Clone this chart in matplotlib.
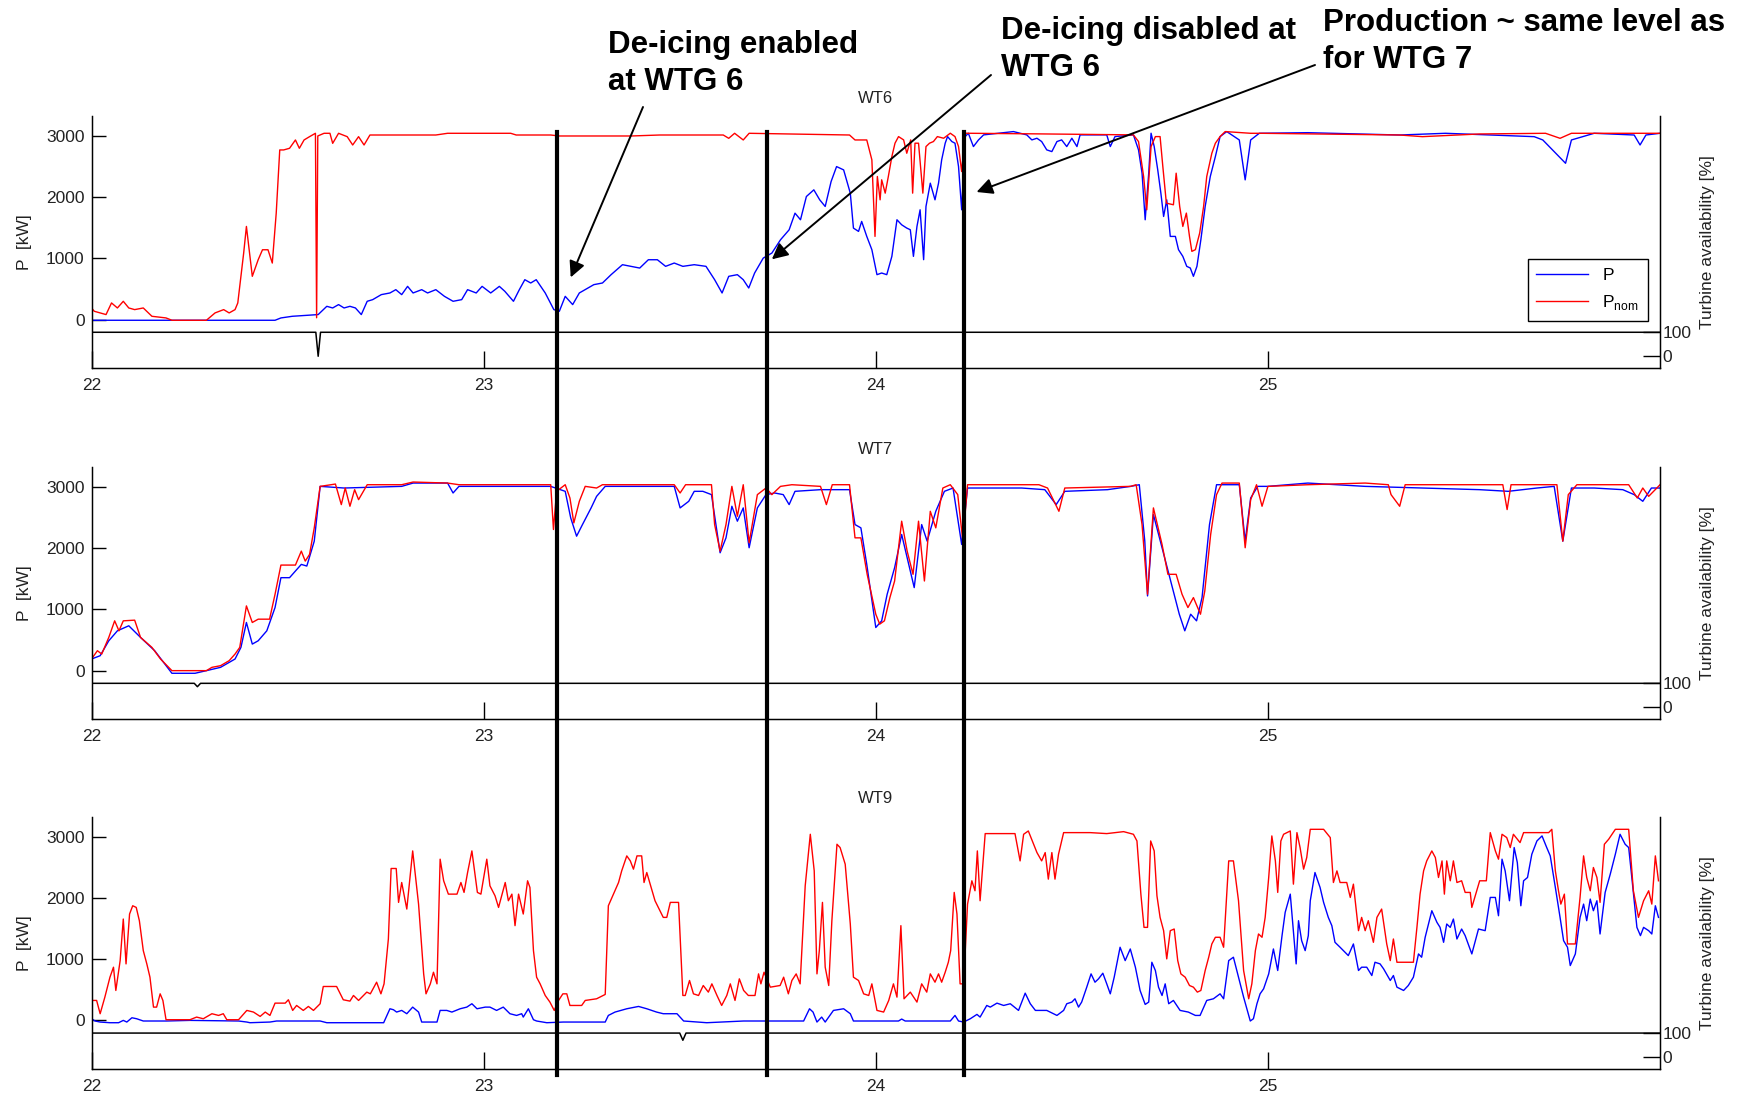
import matplotlib
matplotlib.use("Agg")
import matplotlib.pyplot as plt
from matplotlib.lines import Line2D
from matplotlib import transforms

# ---- data (day of month, kW) ----
wt6_p = [(22.000, -11), (22.468, -11), (22.483, 27), (22.512, 54), (22.578, 82), (22.600, 217), (22.615, 190),
         (22.630, 245), (22.644, 190), (22.659, 217), (22.673, 190), (22.688, 82), (22.703, 299), (22.717, 326),
         (22.739, 408), (22.761, 435), (22.776, 489), (22.791, 408), (22.806, 543), (22.820, 435), (22.842, 489),
         (22.857, 435), (22.878, 489), (22.900, 380), (22.922, 299), (22.944, 326), (22.959, 489), (22.981, 435),
         (22.996, 543), (23.018, 435), (23.040, 543), (23.054, 462), (23.076, 299), (23.091, 489), (23.105, 652),
         (23.120, 598), (23.134, 652), (23.157, 435), (23.179, 163), (23.193, 136), (23.208, 380), (23.227, 245),
         (23.244, 435), (23.266, 516), (23.281, 571), (23.303, 598), (23.325, 734), (23.354, 897), (23.376, 870),
         (23.398, 842), (23.420, 978), (23.443, 978), (23.464, 870), (23.486, 924), (23.508, 870), (23.537, 897),
         (23.567, 870), (23.589, 652), (23.608, 435), (23.625, 707), (23.647, 734), (23.662, 652), (23.676, 516),
         (23.691, 761), (23.713, 1005), (23.735, 1087), (23.757, 1304), (23.779, 1467), (23.794, 1739),
         (23.808, 1631), (23.823, 2011), (23.842, 2120), (23.857, 1957), (23.871, 1848), (23.886, 2255),
         (23.900, 2500), (23.918, 2446), (23.935, 2066), (23.943, 1495), (23.956, 1441), (23.964, 1604),
         (23.977, 1359), (23.990, 1142), (24.003, 734), (24.015, 761), (24.028, 734), (24.041, 1033),
         (24.054, 1631), (24.066, 1549), (24.079, 1495), (24.088, 1468), (24.096, 1033), (24.105, 1522),
         (24.113, 1794), (24.122, 979), (24.128, 1849), (24.139, 2229), (24.151, 1957), (24.160, 2229),
         (24.168, 2610), (24.177, 2882), (24.183, 2990), (24.194, 2909), (24.202, 2882), (24.211, 2501),
         (24.219, 1794), (24.228, 2990), (24.236, 3045), (24.249, 2827), (24.262, 2936), (24.275, 3018),
         (24.351, 3072), (24.385, 3018), (24.398, 2936), (24.411, 2963), (24.423, 2909), (24.436, 2773),
         (24.449, 2745), (24.462, 2909), (24.474, 2936), (24.487, 2827), (24.500, 2963), (24.513, 2827),
         (24.521, 3018), (24.589, 3018), (24.598, 2827), (24.610, 2990), (24.657, 3018), (24.670, 2773),
         (24.679, 2392), (24.687, 1631), (24.696, 2392), (24.702, 3045), (24.710, 2827), (24.719, 2447),
         (24.727, 2066), (24.734, 1685), (24.742, 1957), (24.751, 1359), (24.764, 1359), (24.772, 1142),
         (24.783, 1033), (24.793, 870), (24.802, 843), (24.810, 707), (24.819, 870), (24.829, 1305),
         (24.840, 1849), (24.853, 2338), (24.866, 2664), (24.878, 2990), (24.895, 3072), (24.927, 2935),
         (24.942, 2283), (24.956, 2935), (24.978, 3044), (25.102, 3054), (25.336, 3016), (25.453, 3044),
         (25.679, 2989), (25.701, 2935), (25.759, 2554), (25.774, 2935), (25.832, 3044), (25.934, 3016),
         (25.949, 2853), (25.964, 3016), (26.000, 3044)]

wt6_pnom = [(22.000, 190), (22.007, 136), (22.022, 109), (22.037, 82), (22.051, 272), (22.066, 190),
            (22.081, 299), (22.095, 190), (22.110, 163), (22.132, 190), (22.154, 54), (22.190, 27),
            (22.205, -11), (22.293, -11), (22.315, 109), (22.337, 163), (22.351, 109), (22.366, 163),
            (22.373, 272), (22.388, 1087), (22.395, 1522), (22.410, 707), (22.425, 978), (22.436, 1141),
            (22.450, 1141), (22.461, 924), (22.471, 1739), (22.480, 2772), (22.490, 2772), (22.505, 2799),
            (22.520, 2935), (22.530, 2799), (22.542, 2935), (22.556, 2989), (22.571, 3044), (22.574, 30),
            (22.577, 3000), (22.593, 3044), (22.608, 3044), (22.615, 2880), (22.630, 3044), (22.652, 2989),
            (22.666, 2853), (22.681, 2989), (22.695, 2853), (22.710, 3016), (22.878, 3016), (22.908, 3044),
            (23.069, 3044), (23.083, 3016), (23.171, 3016), (23.193, 3000), (23.376, 3000), (23.449, 3016),
            (23.611, 3016), (23.625, 2962), (23.640, 3044), (23.662, 2935), (23.677, 3044), (23.933, 3016),
            (23.947, 2935), (23.977, 2935), (23.990, 2610), (23.998, 1359), (24.004, 2338), (24.011, 1957),
            (24.015, 2284), (24.024, 2066), (24.032, 2338), (24.041, 2664), (24.049, 2882), (24.058, 2990),
            (24.071, 2936), (24.079, 2718), (24.089, 2936), (24.094, 2066), (24.100, 2882), (24.109, 2882),
            (24.120, 2066), (24.128, 2827), (24.137, 2882), (24.147, 2909), (24.157, 2990), (24.173, 2963),
            (24.190, 3045), (24.202, 2990), (24.211, 2827), (24.219, 2419), (24.228, 3045), (24.419, 3034),
            (24.657, 3018), (24.670, 2909), (24.683, 2338), (24.691, 1794), (24.702, 2827), (24.713, 2990),
            (24.725, 2990), (24.732, 2501), (24.741, 1903), (24.759, 1876), (24.766, 2392), (24.775, 1849),
            (24.783, 1522), (24.792, 1740), (24.800, 1359), (24.806, 1115), (24.815, 1142), (24.826, 1414),
            (24.836, 1849), (24.844, 2338), (24.857, 2718), (24.866, 2882), (24.878, 2990), (24.891, 3072),
            (24.956, 3044), (24.985, 3044), (25.336, 3016), (25.394, 2989), (25.540, 3033), (25.708, 3044),
            (25.745, 2962), (25.774, 3044), (26.000, 3044)]

wt7_p = [(22.000, 190), (22.022, 244), (22.044, 488), (22.066, 651), (22.095, 733), (22.125, 543),
         (22.161, 326), (22.205, -43), (22.264, -43), (22.293, 0), (22.329, 54), (22.366, 190), (22.381, 380),
         (22.395, 787), (22.410, 434), (22.425, 488), (22.447, 651), (22.468, 1031), (22.483, 1519),
         (22.505, 1519), (22.520, 1628), (22.535, 1736), (22.549, 1709), (22.568, 2116), (22.583, 3011),
         (22.644, 2984), (22.791, 3011), (22.820, 3065), (22.908, 3065), (22.922, 2903), (22.937, 3011),
         (23.171, 3011), (23.208, 2930), (23.222, 2496), (23.237, 2197), (23.252, 2387), (23.274, 2659),
         (23.288, 2848), (23.310, 3011), (23.486, 3011), (23.501, 2659), (23.523, 2767), (23.537, 2930),
         (23.559, 2930), (23.581, 2876), (23.603, 1926), (23.618, 2170), (23.633, 2686), (23.647, 2442),
         (23.662, 2659), (23.677, 2008), (23.698, 2659), (23.720, 2876), (23.742, 2903), (23.764, 2876),
         (23.779, 2713), (23.794, 2930), (23.859, 2957), (23.933, 2957), (23.947, 2387), (23.962, 2333),
         (23.977, 1736), (24.000, 705), (24.015, 814), (24.029, 1248), (24.048, 1682), (24.066, 2225),
         (24.080, 1845), (24.098, 1357), (24.117, 2387), (24.131, 2116), (24.153, 2604), (24.175, 2930),
         (24.197, 2984), (24.219, 2062), (24.234, 2984), (24.372, 2984), (24.431, 2957), (24.460, 2713),
         (24.482, 2930), (24.591, 2957), (24.650, 3011), (24.672, 3038), (24.686, 2116), (24.693, 1221),
         (24.708, 2550), (24.730, 2008), (24.752, 1465), (24.774, 922), (24.788, 651), (24.803, 922),
         (24.818, 814), (24.832, 1194), (24.851, 2387), (24.869, 3038), (24.927, 3038), (24.942, 2116),
         (24.956, 2821), (24.974, 3011), (25.000, 3011), (25.102, 3065), (25.248, 3011), (25.394, 2984),
         (25.540, 2957), (25.613, 2930), (25.686, 2984), (25.730, 3011), (25.752, 2116), (25.774, 2984),
         (25.832, 2984), (25.905, 2957), (25.934, 2876), (25.956, 2767), (25.978, 2984), (26.000, 2984)]

wt7_pnom = [(22.000, 190), (22.015, 326), (22.026, 271), (22.044, 543), (22.059, 814), (22.070, 651),
            (22.081, 814), (22.110, 825), (22.125, 543), (22.154, 380), (22.176, 190), (22.205, 0),
            (22.293, 0), (22.307, 54), (22.329, 81), (22.351, 163), (22.366, 271), (22.378, 380),
            (22.395, 1058), (22.410, 787), (22.425, 841), (22.454, 841), (22.468, 1248), (22.483, 1725),
            (22.520, 1725), (22.535, 1953), (22.545, 1790), (22.556, 1899), (22.568, 2333), (22.583, 3011),
            (22.622, 3049), (22.637, 2713), (22.647, 2984), (22.659, 2686), (22.671, 2957), (22.681, 2794),
            (22.703, 3038), (22.791, 3038), (22.820, 3082), (22.908, 3065), (22.937, 3038), (23.171, 3038),
            (23.178, 2306), (23.186, 2930), (23.208, 3038), (23.220, 2821), (23.230, 2414), (23.244, 2767),
            (23.259, 3011), (23.288, 2984), (23.303, 3038), (23.486, 3038), (23.501, 2903), (23.515, 3038),
            (23.581, 3038), (23.589, 2387), (23.603, 1953), (23.618, 2387), (23.633, 3011), (23.647, 2523),
            (23.662, 3038), (23.677, 2089), (23.698, 2876), (23.720, 2984), (23.735, 2876), (23.757, 3011),
            (23.786, 3038), (23.859, 3011), (23.874, 2713), (23.889, 3038), (23.933, 3038), (23.947, 2170),
            (23.962, 2170), (23.978, 1574), (24.000, 922), (24.010, 760), (24.022, 814), (24.036, 1194),
            (24.048, 1465), (24.066, 2442), (24.080, 1953), (24.095, 1574), (24.109, 2442), (24.124, 1465),
            (24.139, 2604), (24.153, 2333), (24.171, 2984), (24.190, 3038), (24.209, 2876), (24.222, 2116),
            (24.234, 3038), (24.416, 3038), (24.438, 2984), (24.467, 2604), (24.482, 2984), (24.650, 3011),
            (24.664, 3038), (24.679, 2387), (24.693, 1248), (24.708, 2659), (24.730, 2062), (24.745, 1574),
            (24.766, 1574), (24.781, 1248), (24.796, 1031), (24.810, 1194), (24.828, 922), (24.839, 1302),
            (24.854, 2225), (24.869, 2876), (24.883, 3065), (24.927, 3065), (24.942, 2008), (24.956, 2794),
            (24.971, 3038), (24.985, 2686), (25.000, 3011), (25.102, 3038), (25.248, 3065), (25.307, 3038),
            (25.314, 2876), (25.336, 2686), (25.350, 3038), (25.599, 3038), (25.610, 2632), (25.620, 3038),
            (25.737, 3038), (25.752, 2116), (25.766, 2876), (25.788, 3038), (25.920, 3038), (25.942, 2821),
            (25.956, 2984), (25.971, 2848), (26.000, 3038)]

wt9_p = [(22.000, 27), (22.009, -10), (22.022, -27), (22.047, -38), (22.069, -38), (22.081, 0), (22.090, -27),
         (22.103, 43), (22.115, 27), (22.132, -10), (22.192, -10), (22.251, 0), (22.375, -10), (22.396, -27),
         (22.404, -38), (22.455, -27), (22.472, -10), (22.583, -10), (22.600, -38), (22.745, -38),
         (22.761, 190), (22.770, 174), (22.778, 136), (22.791, 163), (22.804, 109), (22.819, 217),
         (22.834, 136), (22.842, -27), (22.881, -27), (22.889, 163), (22.906, 163), (22.919, 136),
         (22.940, 190), (22.957, 217), (22.970, 272), (22.983, 190), (23.004, 217), (23.016, 217),
         (23.033, 163), (23.050, 217), (23.067, 109), (23.084, 81), (23.097, 109), (23.101, 54), (23.114, 190),
         (23.127, 11), (23.135, -10), (23.161, -38), (23.203, -27), (23.310, -27), (23.318, 81), (23.335, 136),
         (23.365, 190), (23.395, 228), (23.416, 190), (23.441, 136), (23.458, 109), (23.493, 109),
         (23.510, -10), (23.569, -38), (23.663, -10), (23.816, -10), (23.831, 190), (23.840, 136),
         (23.850, -27), (23.862, 54), (23.871, -27), (23.892, 163), (23.918, 190), (23.935, 109),
         (23.943, -10), (24.058, -10), (24.066, 22), (24.075, -10), (24.190, -10), (24.202, 81), (24.211, -10),
         (24.224, -27), (24.241, 27), (24.258, 98), (24.266, 54), (24.283, 244), (24.292, 217), (24.309, 282),
         (24.326, 244), (24.343, 272), (24.364, 163), (24.381, 445), (24.394, 272), (24.407, 163),
         (24.436, 163), (24.462, 81), (24.479, 163), (24.487, 272), (24.500, 299), (24.508, 353),
         (24.517, 217), (24.525, 299), (24.538, 543), (24.549, 760), (24.559, 624), (24.568, 679),
         (24.579, 771), (24.589, 597), (24.598, 434), (24.608, 706), (24.623, 1195), (24.636, 977),
         (24.649, 1167), (24.662, 869), (24.674, 489), (24.687, 261), (24.696, 299), (24.704, 950),
         (24.713, 815), (24.721, 543), (24.730, 407), (24.738, 597), (24.747, 272), (24.759, 326),
         (24.776, 163), (24.797, 136), (24.815, 81), (24.827, 81), (24.844, 326), (24.861, 353), (24.878, 434),
         (24.887, 353), (24.900, 977), (24.912, 1032), (24.925, 706), (24.938, 380), (24.955, -10),
         (24.963, 27), (24.972, 272), (24.980, 434), (24.989, 516), (25.002, 760), (25.014, 1167),
         (25.025, 815), (25.036, 1385), (25.044, 1765), (25.057, 2063), (25.065, 1466), (25.072, 923),
         (25.078, 1629), (25.086, 1303), (25.095, 1140), (25.103, 1385), (25.108, 1955), (25.120, 2416),
         (25.133, 2172), (25.142, 1928), (25.154, 1683), (25.163, 1548), (25.171, 1276), (25.184, 1195),
         (25.205, 1059), (25.218, 1249), (25.231, 815), (25.239, 869), (25.252, 869), (25.265, 733),
         (25.273, 950), (25.286, 923), (25.295, 842), (25.312, 652), (25.320, 733), (25.329, 543),
         (25.346, 489), (25.358, 570), (25.371, 706), (25.384, 1086), (25.392, 1032), (25.401, 1358),
         (25.418, 1792), (25.431, 1602), (25.439, 1520), (25.448, 1276), (25.456, 1575), (25.465, 1520),
         (25.473, 1656), (25.482, 1330), (25.494, 1493), (25.503, 1385), (25.520, 1086), (25.537, 1493),
         (25.554, 1466), (25.567, 2009), (25.580, 2009), (25.588, 1710), (25.597, 2634), (25.605, 2443),
         (25.616, 1955), (25.628, 2824), (25.636, 2579), (25.645, 1873), (25.652, 2281), (25.662, 2335),
         (25.673, 2715), (25.686, 2932), (25.699, 3014), (25.711, 2824), (25.720, 2688), (25.733, 2172),
         (25.745, 1683), (25.754, 1303), (25.764, 1195), (25.771, 896), (25.784, 1086), (25.796, 1683),
         (25.805, 1900), (25.813, 1629), (25.822, 1982), (25.830, 1792), (25.839, 1955), (25.847, 1412),
         (25.860, 2091), (25.873, 2389), (25.886, 2715), (25.898, 3041), (25.911, 2878), (25.920, 2824),
         (25.928, 2335), (25.941, 1520), (25.950, 1385), (25.958, 1520), (25.971, 1466), (25.979, 1412),
         (25.988, 1873), (25.996, 1683)]

wt9_pnom = [(22.000, 326), (22.013, 326), (22.022, 109), (22.034, 380), (22.047, 706), (22.056, 869),
            (22.062, 489), (22.073, 977), (22.081, 1656), (22.088, 923), (22.097, 1738), (22.105, 1873),
            (22.114, 1846), (22.122, 1629), (22.132, 1140), (22.141, 923), (22.149, 706), (22.158, 217),
            (22.166, 217), (22.175, 434), (22.182, 326), (22.190, 11), (22.251, 11), (22.268, 54), (22.285, 27),
            (22.307, 109), (22.324, 81), (22.336, 109), (22.345, 11), (22.375, 11), (22.396, 163), (22.413, 136),
            (22.430, 65), (22.443, 136), (22.455, 81), (22.468, 282), (22.494, 282), (22.502, 337),
            (22.513, 163), (22.523, 244), (22.540, 163), (22.553, 228), (22.566, 163), (22.583, 272),
            (22.591, 554), (22.625, 554), (22.642, 337), (22.659, 315), (22.668, 407), (22.681, 326),
            (22.702, 462), (22.711, 434), (22.727, 624), (22.738, 434), (22.746, 597), (22.757, 1330),
            (22.764, 2482), (22.777, 2482), (22.783, 1928), (22.791, 2253), (22.804, 1819), (22.819, 2769),
            (22.834, 1900), (22.847, 760), (22.853, 434), (22.864, 597), (22.872, 787), (22.881, 597),
            (22.889, 2634), (22.898, 2281), (22.910, 2063), (22.932, 2063), (22.942, 2253), (22.950, 2091),
            (22.959, 2416), (22.970, 2769), (22.984, 2091), (22.993, 2063), (23.008, 2634), (23.016, 2199),
            (23.029, 2036), (23.038, 1846), (23.055, 2253), (23.063, 1955), (23.072, 2063), (23.080, 1548),
            (23.089, 2063), (23.101, 1738), (23.112, 2281), (23.118, 2172), (23.127, 1140), (23.135, 706),
            (23.144, 597), (23.157, 407), (23.169, 299), (23.180, 163), (23.191, 326), (23.202, 434),
            (23.212, 434), (23.220, 244), (23.250, 244), (23.259, 326), (23.288, 353), (23.310, 424),
            (23.318, 1873), (23.331, 2063), (23.344, 2253), (23.352, 2443), (23.365, 2688), (23.374, 2606),
            (23.382, 2471), (23.391, 2688), (23.403, 2688), (23.409, 2253), (23.416, 2416), (23.437, 1955),
            (23.458, 1683), (23.467, 1683), (23.476, 1928), (23.497, 1928), (23.508, 407), (23.514, 407),
            (23.525, 652), (23.535, 434), (23.548, 407), (23.560, 570), (23.573, 462), (23.582, 597),
            (23.595, 407), (23.607, 244), (23.620, 407), (23.629, 597), (23.641, 326), (23.652, 679),
            (23.663, 489), (23.675, 407), (23.692, 407), (23.701, 760), (23.707, 597), (23.715, 787),
            (23.731, 543), (23.756, 570), (23.765, 706), (23.777, 434), (23.786, 652), (23.797, 760),
            (23.807, 597), (23.820, 2199), (23.833, 3041), (23.843, 2443), (23.850, 760), (23.856, 1140),
            (23.864, 1928), (23.871, 869), (23.880, 570), (23.888, 1629), (23.901, 2878), (23.909, 2824),
            (23.922, 2552), (23.935, 1575), (23.943, 706), (23.956, 652), (23.969, 434), (23.982, 407),
            (23.990, 597), (24.003, 163), (24.020, 136), (24.033, 326), (24.045, 597), (24.054, 380),
            (24.064, 1548), (24.072, 353), (24.088, 462), (24.105, 299), (24.117, 597), (24.130, 462),
            (24.139, 760), (24.151, 624), (24.160, 760), (24.168, 624), (24.177, 787), (24.185, 950),
            (24.191, 1140), (24.200, 2091), (24.207, 1738), (24.215, 597), (24.224, 597), (24.234, 1900),
            (24.245, 2281), (24.253, 2118), (24.259, 2769), (24.266, 1955), (24.279, 3052), (24.355, 3052),
            (24.368, 2606), (24.377, 3041), (24.389, 3095), (24.411, 2742), (24.423, 2606), (24.432, 2742),
            (24.440, 2308), (24.449, 2742), (24.457, 2308), (24.466, 2715), (24.479, 3068), (24.547, 3068),
            (24.589, 3052), (24.632, 3084), (24.657, 3041), (24.666, 2932), (24.676, 2063), (24.684, 1520),
            (24.693, 1520), (24.701, 2932), (24.710, 2769), (24.717, 2036), (24.725, 1683), (24.734, 1466),
            (24.742, 1005), (24.751, 1466), (24.761, 1493), (24.770, 977), (24.778, 760), (24.789, 706),
            (24.800, 570), (24.810, 543), (24.820, 462), (24.829, 489), (24.840, 815), (24.849, 1032),
            (24.857, 1249), (24.866, 1358), (24.878, 1358), (24.887, 1195), (24.900, 2606), (24.912, 2606),
            (24.925, 1955), (24.938, 815), (24.951, 353), (24.959, 597), (24.968, 1140), (24.976, 1412),
            (24.985, 1358), (24.993, 1683), (25.002, 2335), (25.010, 3014), (25.019, 2606), (25.025, 2091),
            (25.033, 2932), (25.040, 3041), (25.057, 3095), (25.065, 2226), (25.074, 3068), (25.082, 2824),
            (25.091, 2471), (25.099, 2661), (25.108, 3122), (25.142, 3122), (25.159, 2987), (25.167, 2253),
            (25.176, 2443), (25.184, 2253), (25.201, 2253), (25.210, 2009), (25.218, 2226), (25.231, 1466),
            (25.239, 1683), (25.248, 1466), (25.256, 1629), (25.269, 1276), (25.278, 1683), (25.290, 1819),
            (25.303, 1249), (25.312, 977), (25.320, 1330), (25.329, 950), (25.371, 950), (25.380, 1520),
            (25.388, 2063), (25.397, 2443), (25.405, 2606), (25.418, 2769), (25.427, 2661), (25.435, 2335),
            (25.444, 2606), (25.450, 2063), (25.456, 2606), (25.465, 2281), (25.473, 2606), (25.482, 2253),
            (25.494, 2281), (25.503, 2091), (25.516, 2091), (25.520, 1846), (25.540, 2281), (25.557, 2281),
            (25.567, 3068), (25.580, 2769), (25.588, 2634), (25.597, 3041), (25.609, 2987), (25.618, 2824),
            (25.626, 3041), (25.643, 2905), (25.652, 3068), (25.716, 3068), (25.724, 3122), (25.733, 2443),
            (25.741, 2118), (25.747, 1900), (25.756, 2063), (25.764, 1249), (25.784, 1249), (25.796, 2009),
            (25.805, 2688), (25.813, 2335), (25.822, 2118), (25.830, 2498), (25.839, 2335), (25.847, 1928),
            (25.858, 2878), (25.869, 2960), (25.886, 3122), (25.920, 3122), (25.932, 2118), (25.945, 1683),
            (25.958, 1955), (25.971, 2118), (25.979, 1900), (25.988, 2688), (25.996, 2281)]

# turbine availability [%]
wt6_avail = [(22.0, 100), (22.572, 100), (22.578, 0), (22.584, 100), (26.0, 100)]
wt7_avail = [(22.0, 100), (22.262, 100), (22.270, 86), (22.278, 100), (26.0, 100)]
wt9_avail = [(22.0, 100), (23.500, 100), (23.508, 70), (23.516, 100), (26.0, 100)]

panel_names = ["WT6", "WT7", "WT9"]
day_ticks = [22, 23, 24, 25]
kw_ticks = [0, 1000, 2000, 3000]
avail_ticks = [0, 100]

# de-icing events (day) and the annotations pointing at WT6
event_days = [23.187, 23.722, 24.226]
notes = ["De-icing enabled\nat WTG 6", "De-icing disabled at\nWTG 6", "Production ~ same level as\nfor WTG 7"]
note_targets = [(23.222, 690), (23.735, 985), (24.257, 2085)]

plt.rcParams['font.family'] = ['Liberation Sans', 'DejaVu Sans']
TXT = '#222222'

fig = plt.figure(figsize=(17.5, 10.95), dpi=100)
fig.patch.set_facecolor('white')

left, width, height = 0.0523, 0.8963, 0.2300
bottoms = [0.6637, 0.3431, 0.0237]
series = [(wt6_p, wt6_pnom, wt6_avail), (wt7_p, wt7_pnom, wt7_avail), (wt9_p, wt9_pnom, wt9_avail)]

axes = []
for name, bot, (p, pnom, av) in zip(panel_names, bottoms, series):
    ax = fig.add_axes([left, bot, width, height])
    ax.plot([d for d, v in p], [v for d, v in p], color='#0000ff', lw=1.0, label='P')
    ax.plot([d for d, v in pnom], [v for d, v in pnom], color='#ff0000', lw=1.0,
            label=r'P$_\mathregular{nom}$')
    ax.set_xlim(22, 26)
    ax.set_ylim(-795, 3320)
    ax.set_xticks(day_ticks)
    ax.set_yticks(kw_ticks)
    ax.tick_params(axis='x', direction='in', length=12, width=1, pad=7, labelsize=12.5, labelcolor=TXT)
    ax.tick_params(axis='y', direction='in', length=10, width=1, pad=5, labelsize=12.5, labelcolor=TXT)
    ax.spines['top'].set_visible(False)
    for s in ['left', 'bottom', 'right']:
        ax.spines[s].set_linewidth(1.0)
    ax.set_ylabel('P  [kW]', fontsize=12.5, color=TXT, labelpad=10)
    ax.set_title(name, fontsize=12, color=TXT, pad=10)

    ax2 = ax.twinx()
    ax2.plot([d for d, v in av], [v for d, v in av], color='black', lw=1.1)
    ax2.set_ylim(-50, 1000)
    ax2.set_yticks(avail_ticks)
    ax2.tick_params(axis='y', direction='in', length=12, width=1, pad=2, labelsize=12.5, labelcolor=TXT)
    ax2.spines['top'].set_visible(False)
    ax2.set_ylabel('Turbine availability [%]', fontsize=12.5, color=TXT, labelpad=6)
    axes.append(ax)

leg = axes[0].legend(loc='lower right', bbox_to_anchor=(0.992, 0.187), fontsize=12.5,
                     handlelength=3.0, fancybox=False, edgecolor='black', framealpha=1,
                     borderpad=0.5, labelspacing=0.6, borderaxespad=0)
leg.get_frame().set_linewidth(1.0)
leg.set_zorder(20)

# thick vertical event lines spanning all three panels
trans = transforms.blended_transform_factory(axes[0].transData, fig.transFigure)
for d in event_days:
    fig.add_artist(Line2D([d, d], [0.0183, 0.879], transform=trans, color='black', lw=3.0, zorder=10))

# annotations: text placed by the baseline of its last line (figure pixels from top-left)
text_pos = [(608, 90), (1001, 76), (1323, 68)]
tail_pos = [(643, 107), (991, 75), (1315, 65)]
W, H = 1750.0, 1095.0
for txt, (tx, ty), (ax_, ay_), (xd, yv) in zip(notes, text_pos, tail_pos, note_targets):
    fig.text(tx / W, 1 - ty / H, txt, fontsize=22.5, fontweight='bold', ha='left', va='baseline',
             linespacing=1.3, color='black')
    axes[0].annotate('', xy=(xd, yv), xycoords='data', xytext=(ax_ / W, 1 - ay_ / H),
                     textcoords='figure fraction', annotation_clip=False,
                     arrowprops=dict(arrowstyle='-|>', color='black', lw=1.4, mutation_scale=24,
                                     shrinkA=0, shrinkB=0))

fig.savefig('out.png', dpi=100, facecolor='white')
